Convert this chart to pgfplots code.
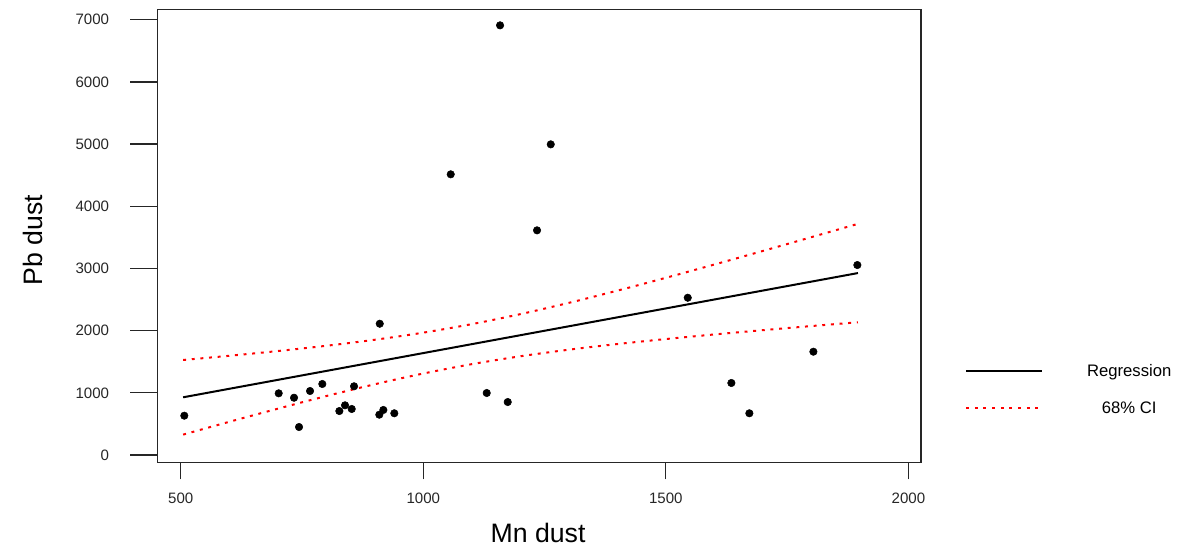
\documentclass[border=0pt]{standalone}
\usepackage{fontspec}
\setmainfont{Liberation Sans}
\usepackage{pgfplots}
\pgfplotsset{compat=1.18}
\begin{document}
\begin{tikzpicture}
\useasboundingbox (-118pt,-63.5pt) rectangle (768.5pt,346.7pt);
\begin{axis}[
  at={(0pt,0pt)}, anchor=south west,
  scale only axis, width=572.6pt, height=339.4pt,
  xmin=451.8, xmax=2025.6, ymin=-117, ymax=7161,
  xtick={500,1000,1500,2000}, ytick={0,1000,...,7000},
  minor tick num=0,
  tick align=outside, major tick length=12.75pt,
  ytick style={/pgfplots/major tick length=20.25pt},
  xtick pos=bottom, ytick pos=left,
  axis line style={black!85, line width=1.1pt},
  tick style={black!85, line width=0.9pt},
  scaled ticks=false,
  /pgf/number format/1000 sep={},
  /pgf/number format/assume math mode=true,
  tick label style={font=\fontsize{11.3}{13}\selectfont, text=black!85},
  xticklabel style={anchor=north, inner sep=0pt, yshift=-10.3pt},
  yticklabel style={anchor=east, inner sep=0pt, xshift=-23.25pt},
  xlabel={Mn dust}, ylabel={Pb dust},
  every axis x label/.style={at={(axis description cs:0.4987,-0.156)}, anchor=center,
    font=\fontsize{20}{24}\selectfont},
  every axis y label/.style={at={(axis description cs:-0.1624,0.491)}, anchor=center, rotate=90,
    font=\fontsize{20}{24}\selectfont},
  legend style={at={(axis description cs:1.058,0.1605)}, anchor=west, draw=none, fill=none,
    inner sep=0pt, outer sep=0pt, row sep=13.5pt,
    font=\fontsize{12.5}{15}\selectfont,
    /tikz/every odd column/.append style={column sep=31pt}},
  legend cell align=center,
  clip=false,
]
\addplot[only marks, mark=*, mark size=2.8pt, black, forget plot] coordinates {
(507.4,632) (702,992) (733.6,921) (743.9,450) (766.6,1029) (791.9,1142)
(827,707) (838.7,799) (852.5,740) (857.3,1105) (910.3,2111) (909.4,648)
(917.7,724) (940.3,671) (1234.5,3613) (1545.2,2529) (1130.8,997) (1174.1,852)
(1158.3,6910) (1262.8,4996) (1056.6,4514) (1894.8,3055) (1804.2,1661)
(1635.1,1158) (1672.2,671)
};
\addplot[black, line width=1.5pt,
  legend image code/.code={\draw[black, line width=1.5pt] (0pt,0pt) -- (57pt,0pt);}]
  coordinates {(505,928) (1896,2926)};
\addlegendentry{Regression}
\addplot[red, line width=1.5pt, dash pattern=on 2.2pt off 4.3pt, smooth,
  legend image code/.code={\draw[red, line width=1.5pt, dash pattern=on 2.2pt off 4.3pt] (0pt,0pt) -- (57pt,0pt);}]
  coordinates {(505,1528) (600,1595.5) (700,1671.6) (800,1756.5) (900,1853.1) (1000,1967.5)
  (1100,2104.5) (1200,2265.3) (1300,2446.5) (1400,2643) (1500,2849.7) (1600,3063.4)
  (1700,3281.6) (1800,3503.1) (1896,3717.6)};
\addlegendentry{68\% CI}
\addplot[red, line width=1.5pt, dash pattern=on 2.2pt off 4.3pt, smooth, forget plot]
  coordinates {(505,328) (600,533.5) (700,744.4) (800,947.5) (900,1137.7) (1000,1310.5)
  (1100,1460.9) (1200,1587.5) (1300,1693.5) (1400,1784.4) (1500,1864.9) (1600,1938.6)
  (1700,2007.6) (1800,2073.5) (1896,2134.4)};
\end{axis}
\end{tikzpicture}
\end{document}
